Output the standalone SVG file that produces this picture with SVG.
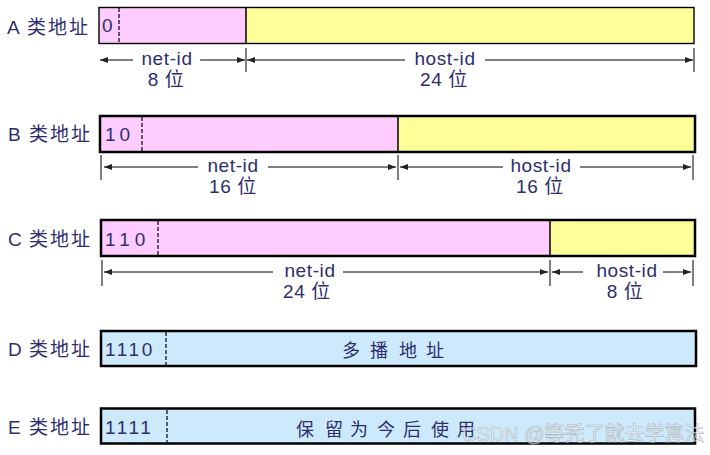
<svg xmlns="http://www.w3.org/2000/svg" width="710" height="455" viewBox="0 0 710 455">
<defs>
<marker id="ah" viewBox="0 0 8 6" refX="8" refY="3" markerWidth="8" markerHeight="6" markerUnits="userSpaceOnUse" orient="auto-start-reverse">
<path d="M0,0 L8,3 L0,6 z" fill="#222"/>
</marker>
<style>
text{font-family:"Liberation Sans","Noto Sans CJK SC",sans-serif;fill:#2e2e6e}
.lbl{font-size:19px}
.cj{font-size:19px;letter-spacing:2px}
.bits{font-size:19px}
.dim{font-size:19px;letter-spacing:0.6px}
.zh{font-size:18px}
.box{stroke:#000;stroke-width:2.5}
.pink{fill:#ffccff}
.yel{fill:#ffff99}
.blue{fill:#cceafb}
.dash{stroke:#000;stroke-width:1.2;stroke-dasharray:4,2}
.div{stroke:#000;stroke-width:1.5}
.tick{stroke:#000;stroke-width:1}
.arr{stroke:#000;stroke-width:1;marker-end:url(#ah)}
</style>
</defs>

<g id="classA">
<text class="lbl" x="7" y="34">A</text><text class="cj" x="27" y="34">类地址</text>
<rect class="pink" x="99" y="7.5" width="147" height="36"/>
<rect class="yel" x="246" y="7.5" width="448" height="36"/>
<rect x="99" y="7.5" width="595" height="36" fill="none" stroke="#000" stroke-width="1.4"/>
<line class="div" x1="246" y1="7.5" x2="246" y2="43.5"/>
<line class="dash" x1="119" y1="8" x2="119" y2="43"/>
<text class="bits" x="102" y="32">0</text>
</g>

<g id="classB">
<text class="lbl" x="8" y="141">B</text><text class="cj" x="29" y="141">类地址</text>
<rect class="pink" x="100" y="116" width="298" height="36"/>
<rect class="yel" x="398" y="116" width="297" height="36"/>
<rect class="box" x="100" y="116" width="595" height="36" fill="none" stroke-width="3"/>
<line class="div" x1="398" y1="116" x2="398" y2="152"/>
<line class="dash" x1="142" y1="117" x2="142" y2="151"/>
<text class="bits" x="105" y="141" letter-spacing="4">10</text>
</g>

<g id="classC">
<text class="lbl" x="8" y="246">C</text><text class="cj" x="29" y="246">类地址</text>
<rect class="pink" x="101" y="220" width="449" height="36"/>
<rect class="yel" x="550" y="220" width="145" height="36"/>
<rect class="box" x="101" y="220" width="594" height="36" fill="none"/>
<line class="div" x1="550" y1="220" x2="550" y2="256"/>
<line class="dash" x1="158" y1="221" x2="158" y2="255"/>
<text class="bits" x="105" y="246" letter-spacing="5">110</text>
</g>

<g id="classD">
<text class="lbl" x="8" y="356">D</text><text class="cj" x="29" y="356">类地址</text>
<rect class="blue box" x="101" y="331" width="595" height="35" stroke-width="3"/>
<line class="dash" x1="166" y1="332" x2="166" y2="365"/>
<text class="bits" x="105" y="356" letter-spacing="2.6">1110</text>
<text class="zh" y="357"><tspan x="342">多</tspan><tspan x="370">播</tspan><tspan x="399">地</tspan><tspan x="426">址</tspan></text>
</g>

<g id="classE">
<text class="lbl" x="8" y="434">E</text><text class="cj" x="29" y="434">类地址</text>
<rect class="blue box" x="101" y="408.5" width="594" height="35" stroke-width="3"/>
<line class="dash" x1="167" y1="410" x2="167" y2="442"/>
<text class="bits" x="105" y="434" letter-spacing="2.6">1111</text>
<text class="zh" y="436"><tspan x="296">保</tspan><tspan x="325">留</tspan><tspan x="350">为</tspan><tspan x="377">今</tspan><tspan x="403">后</tspan><tspan x="431">使</tspan><tspan x="457">用</tspan></text>
</g>

<g id="connectors">
<!-- A -->
<line class="tick" x1="246" y1="48" x2="246" y2="72"/>
<line class="tick" x1="694" y1="48" x2="694" y2="72"/>
<line class="arr" x1="133" y1="60" x2="100" y2="60"/>
<line class="arr" x1="200" y1="60" x2="245" y2="60"/>
<line class="arr" x1="405" y1="60" x2="247" y2="60"/>
<line class="arr" x1="485" y1="60" x2="693" y2="60"/>
<!-- B -->
<line class="tick" x1="101" y1="155" x2="101" y2="180"/>
<line class="tick" x1="398" y1="155" x2="398" y2="180"/>
<line class="tick" x1="693" y1="155" x2="693" y2="180"/>
<line class="arr" x1="198" y1="167" x2="104" y2="167"/>
<line class="arr" x1="268" y1="167" x2="396" y2="167"/>
<line class="arr" x1="503" y1="167" x2="400" y2="167"/>
<line class="arr" x1="580" y1="167" x2="691" y2="167"/>
<!-- C -->
<line class="tick" x1="102" y1="260" x2="102" y2="286"/>
<line class="tick" x1="550" y1="260" x2="550" y2="286"/>
<line class="tick" x1="693" y1="260" x2="693" y2="286"/>
<line class="arr" x1="273" y1="272" x2="104" y2="272"/>
<line class="arr" x1="343" y1="272" x2="548" y2="272"/>
<line class="arr" x1="583" y1="272" x2="552" y2="272"/>
<line class="arr" x1="663" y1="272" x2="691" y2="272"/>
</g>

<g id="dimLabels">
<text class="dim" x="167" y="65" text-anchor="middle">net-id</text>
<text class="dim" x="166" y="86" text-anchor="middle">8 位</text>
<text class="dim" x="445" y="65" text-anchor="middle">host-id</text>
<text class="dim" x="444" y="86" text-anchor="middle">24 位</text>
<text class="dim" x="233" y="172" text-anchor="middle">net-id</text>
<text class="dim" x="233" y="193" text-anchor="middle">16 位</text>
<text class="dim" x="541" y="172" text-anchor="middle">host-id</text>
<text class="dim" x="540" y="193" text-anchor="middle">16 位</text>
<text class="dim" x="310" y="277" text-anchor="middle">net-id</text>
<text class="dim" x="307" y="298" text-anchor="middle">24 位</text>
<text class="dim" x="627" y="277" text-anchor="middle">host-id</text>
<text class="dim" x="625" y="298" text-anchor="middle">8 位</text>
</g>

<text x="462" y="441" style="font-size:20px;fill:#ffffff;fill-opacity:0.6;stroke:#888;stroke-opacity:0.6;stroke-width:0.6">CSDN @等秃了就去学算法</text>
</svg>
